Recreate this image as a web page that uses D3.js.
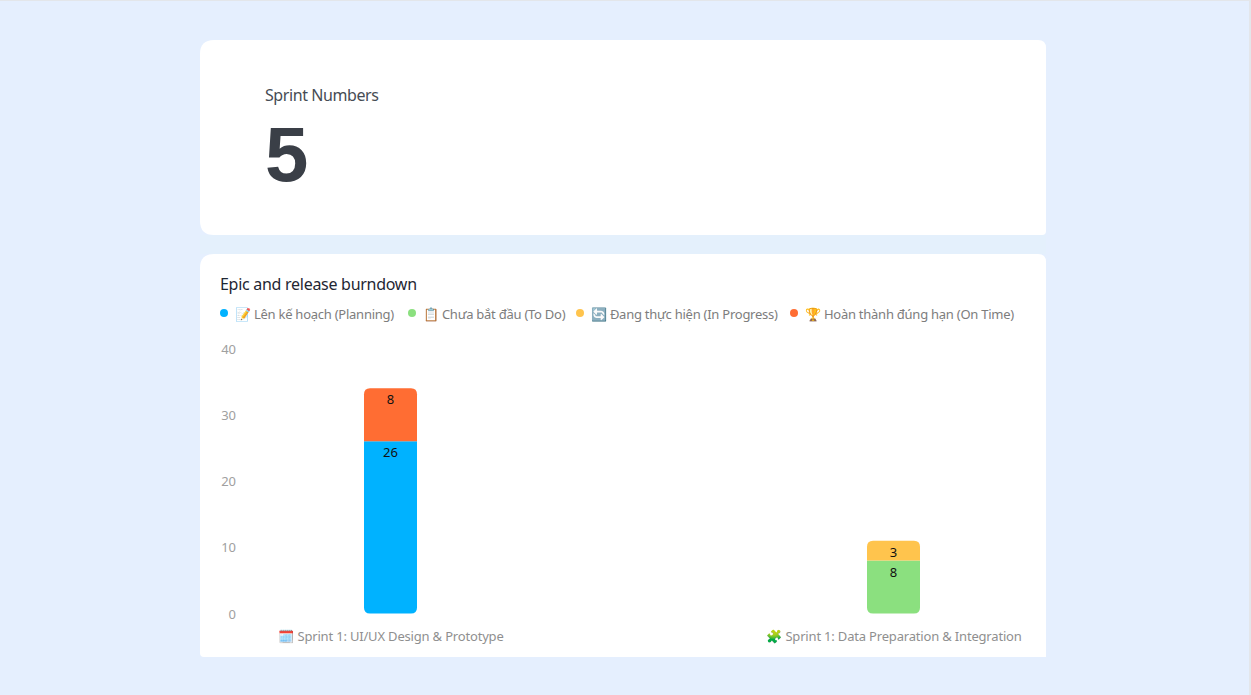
<!DOCTYPE html>
<html>
<head>
<meta charset="utf-8">
<script src="https://cdn.jsdelivr.net/npm/d3@7"></script>
<style>
  html, body { margin: 0; padding: 0; background: #e5effe; overflow: hidden; }
  svg { display: block; }
  text { font-family: "Noto Sans", sans-serif; }
</style>
</head>
<body>
<div id="chart"></div>
<script>
// Chart data.
const sprints = ["🗓️ Sprint 1: UI/UX Design & Prototype", "🧩 Sprint 1: Data Preparation & Integration"];
const statusKeys = ["planning", "todo", "progress", "onTime"];
const statusLabels = ["📝 Lên kế hoạch (Planning)", "📋 Chưa bắt đầu (To Do)", "🔄 Đang thực hiện (In Progress)", "🏆 Hoàn thành đúng hạn (On Time)"];
const statusColors = ["#00b2ff", "#8be07f", "#ffc44d", "#ff6d33"];
const planningValues = [26, 0];
const todoValues = [0, 8];
const progressValues = [0, 3];
const onTimeValues = [8, 0];
const yTicks = [0, 10, 20, 30, 40];
const sprintCount = 5;

const Width = 1251;
const Height = 695;
const BarWidth = 53;
const Radius = 6;
const LegendX = [224, 412, 580, 794];

const svg = d3.select("#chart").append("svg")
    .attr("width", Width)
    .attr("height", Height);

// Window edge lines.
svg.append("rect").attr("width", Width).attr("height", 1).attr("fill", "#e3e6ea");
svg.append("rect").attr("x", Width - 2).attr("width", 2).attr("height", Height).attr("fill", "#e3e6ea");

// Strip between the cards is a little different.
svg.append("rect").attr("x", 200).attr("y", 235).attr("width", 846).attr("height", 19).attr("fill", "#e4f0fc");

// Corners go top left, top right, bottom right, bottom left.
const cardPath = (x0, y0, x1, y1, [tl, tr, br, bl]) =>
    `M${x0 + tl},${y0}H${x1 - tr}Q${x1},${y0} ${x1},${y0 + tr}V${y1 - br}Q${x1},${y1} ${x1 - br},${y1}` +
    `H${x0 + bl}Q${x0},${y1} ${x0},${y1 - bl}V${y0 + tl}Q${x0},${y0} ${x0 + tl},${y0}Z`;

svg.append("path").attr("d", cardPath(200, 40, 1046, 235, [14, 8, 4, 14])).attr("fill", "#fff");
svg.append("path").attr("d", cardPath(200, 254, 1046, 657, [14, 8, 0, 4])).attr("fill", "#fff");

// KPI card.
svg.append("text").attr("x", 265).attr("y", 101)
    .attr("fill", "#464c54").style("font-size", "16px").style("letter-spacing", "-0.42px")
    .text("Sprint Numbers");
svg.append("text").attr("x", 265).attr("y", 181)
    .attr("fill", "#3a3f47")
    .style("font-family", "Liberation Sans").style("font-weight", 700).style("font-size", "78px")
    .text(sprintCount);

// Chart card.
svg.append("text").attr("x", 220).attr("y", 290)
    .attr("fill", "#1f2733").style("font-size", "16px").style("letter-spacing", "-0.28px")
    .text("Epic and release burndown");

const x = d3.scalePoint().domain(sprints).range([390.5, 893.5]);
const y = d3.scaleLinear().domain([0, 40]).range([613.5, 348.5]);
const color = d3.scaleOrdinal().domain(statusKeys).range(statusColors);

// Legend.
const legend = svg.append("g").selectAll("g")
    .data(statusKeys)
    .join("g")
        .attr("transform", (d, i) => `translate(${LegendX[i]},313)`);
legend.append("circle").attr("r", 4).attr("fill", d => color(d));
legend.append("text")
    .attr("x", 11).attr("y", 5.5)
    .attr("fill", "#7d7d7d")
    .style("font-size", "13px")
    .style("letter-spacing", "-0.25px")
    .text((d, i) => statusLabels[i]);

// Y axis, labels only.
const yAxis = svg.append("g")
    .attr("transform", "translate(236,0.5)")
    .call(d3.axisLeft(y).tickValues(yTicks).tickSize(0).tickPadding(0));
yAxis.select(".domain").remove();
yAxis.selectAll("text").attr("fill", "#a0a0a0")
    .style("font-family", "Noto Sans").style("font-size", "13px");

// X axis, labels only.
const xAxis = svg.append("g")
    .attr("transform", "translate(0,632)")
    .call(d3.axisBottom(x).tickSize(0).tickPadding(0));
xAxis.select(".domain").remove();
xAxis.selectAll("text").attr("fill", "#8f8f8f")
    .style("font-family", "Noto Sans").style("font-size", "13px")
    .style("letter-spacing", "-0.18px");

// Stacked bars.
const table = sprints.map((s, i) => ({
    sprint: s,
    planning: planningValues[i],
    todo: todoValues[i],
    progress: progressValues[i],
    onTime: onTimeValues[i],
}));
const stacked = d3.stack().keys(statusKeys)(table);

const totals = table.map(row => d3.sum(statusKeys, k => row[k]));

const segmentPath = (seg, i) => {
    const left = x(sprints[i]) - BarWidth / 2;
    const right = left + BarWidth;
    const top = y(seg[1]);
    const bottom = y(seg[0]);
    const rt = seg[1] === totals[i] ? Radius : 0;
    const rb = seg[0] === 0 ? Radius : 0;
    return `M${left + rt},${top}H${right - rt}Q${right},${top} ${right},${top + rt}` +
        `V${bottom - rb}Q${right},${bottom} ${right - rb},${bottom}` +
        `H${left + rb}Q${left},${bottom} ${left},${bottom - rb}` +
        `V${top + rt}Q${left},${top} ${left + rt},${top}Z`;
};

const series = svg.append("g").selectAll("g")
    .data(stacked)
    .join("g")
        .attr("fill", d => color(d.key));

series.selectAll("path")
    .data(d => d.map((seg, i) => ({ seg, i })).filter(e => e.seg[1] > e.seg[0]))
    .join("path")
        .attr("d", e => segmentPath(e.seg, e.i));

series.selectAll("text")
    .data(d => d.map((seg, i) => ({ seg, i })).filter(e => e.seg[1] > e.seg[0]))
    .join("text")
        .attr("x", e => x(sprints[e.i]))
        .attr("y", e => y(e.seg[1]) + 16)
        .attr("text-anchor", "middle")
        .attr("fill", "#111")
        .style("font-size", "13px")
        .text(e => e.seg[1] - e.seg[0]);
</script>
</body>
</html>
